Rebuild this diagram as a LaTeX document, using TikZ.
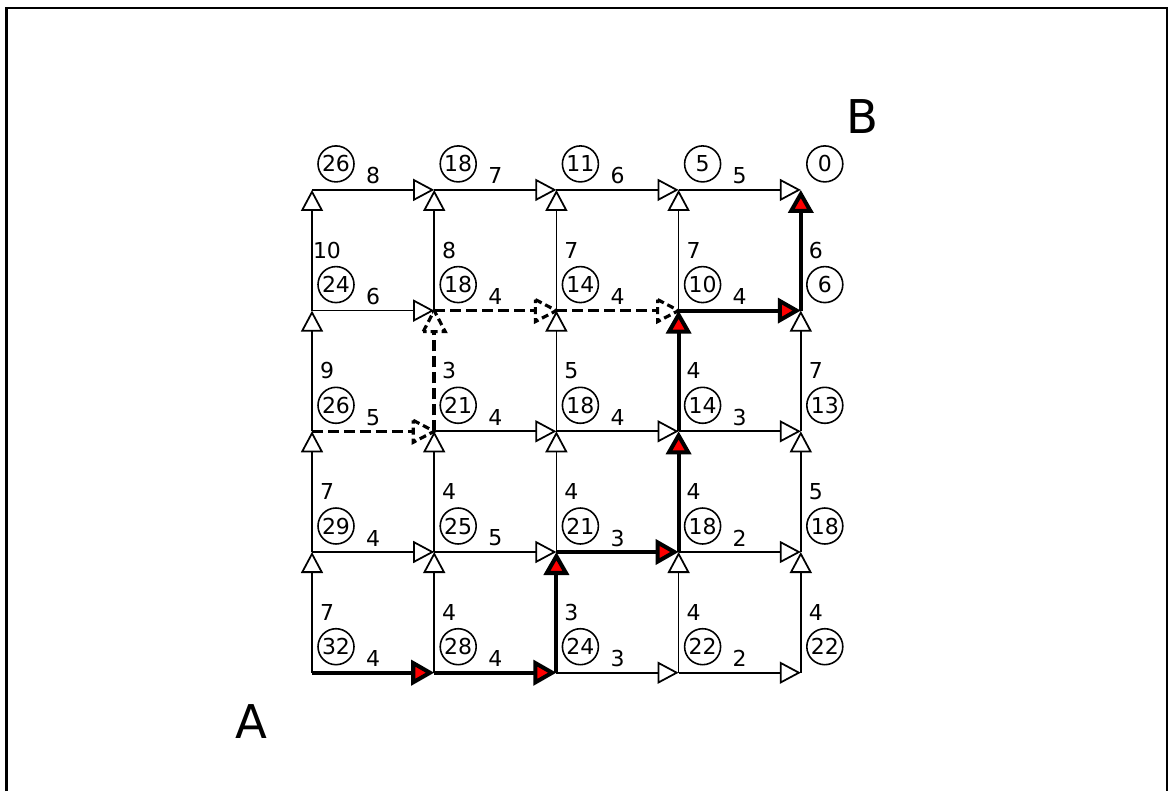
\documentclass[tikz,border=0pt]{standalone}
\usepackage{fontspec}
\setmainfont{DejaVu Sans}
\usetikzlibrary{arrows.meta,calc}
\begin{document}
\begin{tikzpicture}[x=0.02cm,y=-0.02cm,
 every node/.style={font=\fontsize{12.5}{14}\selectfont},
 enorm/.style={line width=1pt,-{Triangle[length=0.42cm,width=0.44cm,fill=white]}},
 ebold/.style={line width=2.3pt,-{Triangle[length=0.46cm,width=0.5cm,fill=red]}},
 edash/.style={line width=2pt,dash pattern=on 0.22cm off 0.1cm},
 dtip/.style={line width=1.8pt,dash pattern=on 0.14cm off 0.08cm,fill=white},
 val/.style={circle,draw,line width=0.9pt,minimum size=0.72cm,inner sep=0pt},
 wt/.style={inner sep=0pt},
 big/.style={font=\fontsize{26.5}{30}\selectfont}]
\useasboundingbox (0,0) rectangle (1169,791);
\draw[line width=1.2pt] (6.5,791) -- (6.5,8) -- (1167,8) -- (1167,791);
\foreach \i in {0,...,4} \foreach \j in {0,...,4} {
  \coordinate (n-\i-\j) at ({312+122.2*\i},{672.7-120.7*\j});
}
% normal horizontal edges
\foreach \i/\j/\w in {2/0/3,3/0/2,0/1/4,1/1/5,3/1/2,1/2/4,2/2/4,3/2/3,0/3/6,0/4/8,1/4/7,2/4/6,3/4/5} {
  \pgfmathtruncatemacro\k{\i+1}
  \draw[enorm] (n-\i-\j) -- node[wt,midway,yshift=0.28cm]{\w} (n-\k-\j);
}
% normal vertical edges
\foreach \i/\j/\w in {0/0/7,1/0/4,3/0/4,4/0/4,0/1/7,1/1/4,2/1/4,4/1/5,0/2/9,2/2/5,4/2/7,0/3/10,1/3/8,2/3/7,3/3/7} {
  \pgfmathtruncatemacro\k{\j+1}
  \draw[enorm] (n-\i-\j) -- node[wt,midway,xshift=0.3cm]{\w} (n-\i-\k);
}
% dashed path
\foreach \i/\j/\w in {0/2/5,1/3/4,2/3/4} {
  \pgfmathtruncatemacro\k{\i+1}
  \draw[edash] (n-\i-\j) -- node[wt,midway,yshift=0.28cm]{\w} (n-\k-\j);
  \draw[dtip] ([shift={(-21,-11)}]n-\k-\j) -- (n-\k-\j) -- ([shift={(-21,11)}]n-\k-\j) -- cycle;
}
\draw[edash] (n-1-2) -- node[wt,midway,xshift=0.3cm]{3} (n-1-3);
\draw[dtip] ([shift={(-11,21)}]n-1-3) -- (n-1-3) -- ([shift={(11,21)}]n-1-3) -- cycle;
% bold path
\foreach \i/\j/\w in {0/0/4,1/0/4,2/1/3,3/3/4} {
  \pgfmathtruncatemacro\k{\i+1}
  \draw[ebold] (n-\i-\j) -- node[wt,midway,yshift=0.28cm]{\w} (n-\k-\j);
}
\foreach \i/\j/\w in {2/0/3,3/1/4,3/2/4,4/3/6} {
  \pgfmathtruncatemacro\k{\j+1}
  \draw[ebold] (n-\i-\j) -- node[wt,midway,xshift=0.3cm]{\w} (n-\i-\k);
}
% node values
\foreach \i/\j/\v in {0/0/32,1/0/28,2/0/24,3/0/22,4/0/22,
                      0/1/29,1/1/25,2/1/21,3/1/18,4/1/18,
                      0/2/26,1/2/21,2/2/18,3/2/14,4/2/13,
                      0/3/24,1/3/18,2/3/14,3/3/10,4/3/6,
                      0/4/26,1/4/18,2/4/11,3/4/5,4/4/0} {
  \node[val] (c-\i-\j) at ([shift={(24,-26)}]n-\i-\j) {\v};
}
\node[big] (A) at (251,722) {A};
\node[big] (B) at (862,117) {B};
\end{tikzpicture}
\end{document}
